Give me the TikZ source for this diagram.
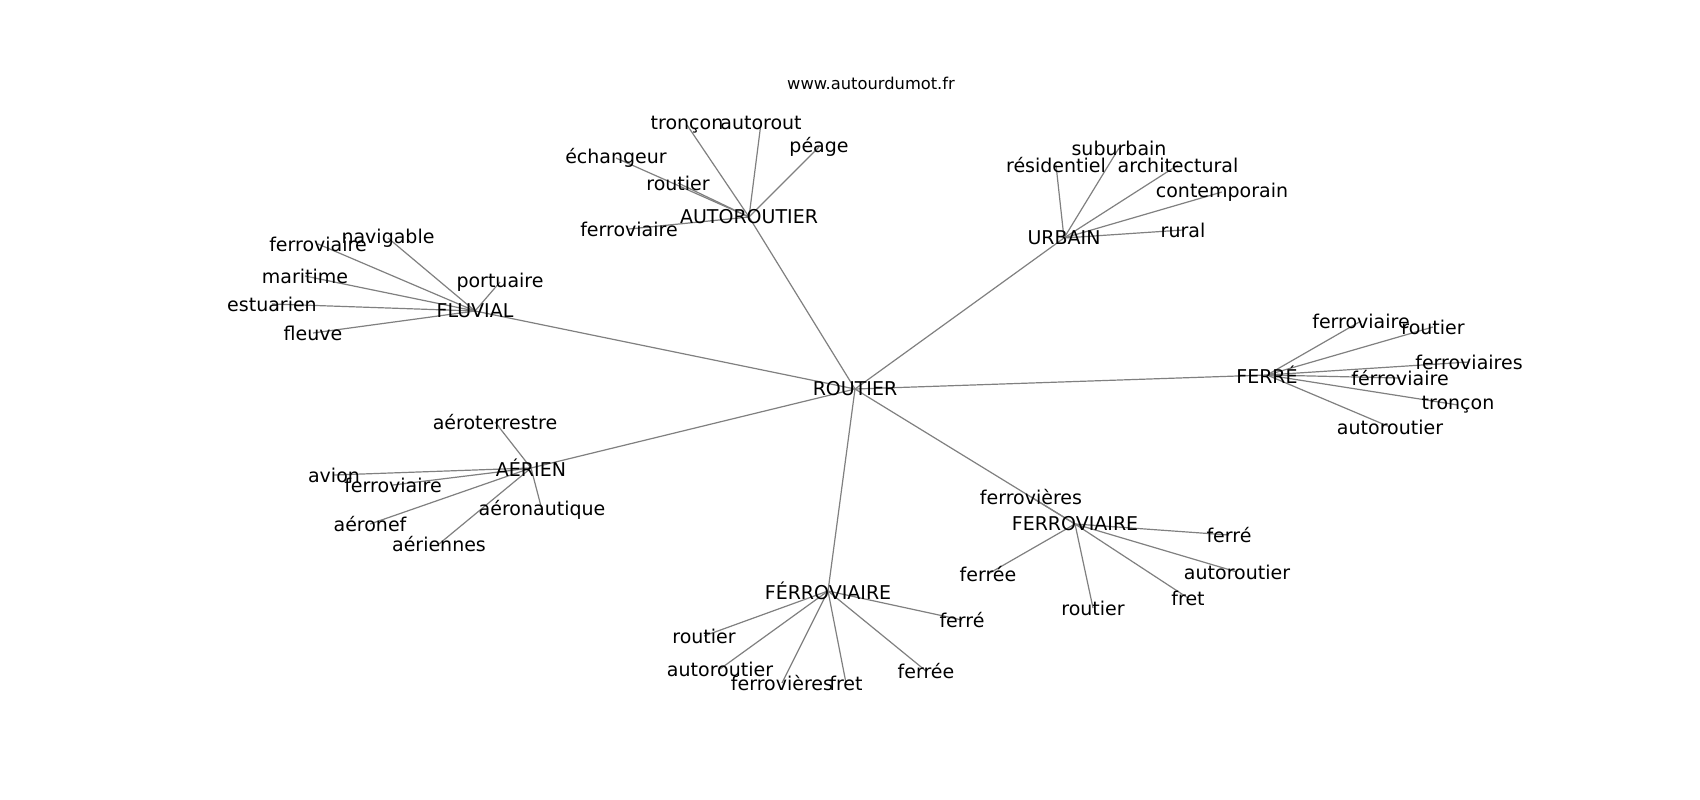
\documentclass[tikz,border=0pt]{standalone}
\usepackage{fontspec}
\setmainfont{DejaVu Sans}
\pgfdeclarelayer{bg}
\pgfsetlayers{bg,main}
\begin{document}
\begin{tikzpicture}[x=1pt,y=-1pt,
  lbl/.style={inner sep=0pt,anchor=center,font=\fontsize{19}{22}\selectfont},
  ttl/.style={inner sep=0pt,anchor=center,font=\fontsize{16.3}{19}\selectfont},
  edge/.style={draw=black!50,line width=1.2pt}]
\useasboundingbox (0,0) rectangle (1700,800);
\node[ttl] (title) at (871,83) {www.autourdumot.fr};
% hubs
\node[lbl] (R) at (855,389) {ROUTIER};
\node[lbl] (AU) at (749,217) {AUTOROUTIER};
\node[lbl] (FL) at (475,311) {FLUVIAL};
\node[lbl] (UR) at (1064,238) {URBAIN};
\node[lbl] (FE) at (1267,375) {FERRÉ};
\node[lbl] (AE) at (531,468) {AÉRIEN};
\node[lbl] (FV) at (1075,524) {FERROVIAIRE};
\node[lbl] (FR) at (828,591) {FÉRROVIAIRE};
% AUTOROUTIER leaves
\node[lbl] (au1) at (687,125) {tronçon};
\node[lbl] (au2) at (761,123) {autorout};
\node[lbl] (au3) at (819,147) {péage};
\node[lbl] (au4) at (616,158) {échangeur};
\node[lbl] (au5) at (678,183) {routier};
\node[lbl] (au6) at (629,229) {ferroviaire};
% FLUVIAL leaves
\node[lbl] (fl1) at (318,244) {ferroviaire};
\node[lbl] (fl2) at (388,238) {navigable};
\node[lbl] (fl3) at (305,276) {maritime};
\node[lbl] (fl4) at (500,282) {portuaire};
\node[lbl] (fl5) at (272,304) {estuarien};
\node[lbl] (fl6) at (313,333) {fleuve};
% URBAIN leaves
\node[lbl] (ur1) at (1119,148) {suburbain};
\node[lbl] (ur2) at (1056,165) {résidentiel};
\node[lbl] (ur3) at (1178,165) {architectural};
\node[lbl] (ur4) at (1222,192) {contemporain};
\node[lbl] (ur5) at (1183,230) {rural};
% FERRÉ leaves
\node[lbl] (fe1) at (1361,321) {ferroviaire};
\node[lbl] (fe2) at (1433,327) {routier};
\node[lbl] (fe3) at (1469,362) {ferroviaires};
\node[lbl] (fe4) at (1400,378) {férroviaire};
\node[lbl] (fe5) at (1458,405) {tronçon};
\node[lbl] (fe6) at (1390,427) {autoroutier};
% AÉRIEN leaves
\node[lbl] (ae1) at (495,422) {aéroterrestre};
\node[lbl] (ae2) at (334,475) {avion};
\node[lbl] (ae3) at (393,485) {ferroviaire};
\node[lbl] (ae4) at (542,510) {aéronautique};
\node[lbl] (ae5) at (370,524) {aéronef};
\node[lbl] (ae6) at (439,544) {aériennes};
% FERROVIAIRE leaves
\node[lbl] (fv1) at (1031,497) {ferrovières};
\node[lbl] (fv2) at (1229,535) {ferré};
\node[lbl] (fv3) at (988,574) {ferrée};
\node[lbl] (fv4) at (1237,572) {autoroutier};
\node[lbl] (fv5) at (1188,598) {fret};
\node[lbl] (fv6) at (1093,608) {routier};
% FÉRROVIAIRE leaves
\node[lbl] (fr1) at (962,620) {ferré};
\node[lbl] (fr2) at (704,636) {routier};
\node[lbl] (fr3) at (720,669) {autoroutier};
\node[lbl] (fr4) at (782,683) {ferrovières};
\node[lbl] (fr5) at (846,683) {fret};
\node[lbl] (fr6) at (926,671) {ferrée};
\begin{pgfonlayer}{bg}
\fill[white] (0,0) rectangle (1700,800);
\foreach \h in {AU,FL,UR,FE,AE,FV,FR}
  \draw[edge] (R.center) -- (\h.center);
\foreach \i in {1,...,6} {
  \draw[edge] (AU.center) -- (au\i.center);
  \draw[edge] (FL.center) -- (fl\i.center);
  \draw[edge] (FE.center) -- (fe\i.center);
  \draw[edge] (AE.center) -- (ae\i.center);
  \draw[edge] (FV.center) -- (fv\i.center);
  \draw[edge] (FR.center) -- (fr\i.center);
}
\foreach \i in {1,...,5}
  \draw[edge] (UR.center) -- (ur\i.center);
\end{pgfonlayer}
\end{tikzpicture}
\end{document}
